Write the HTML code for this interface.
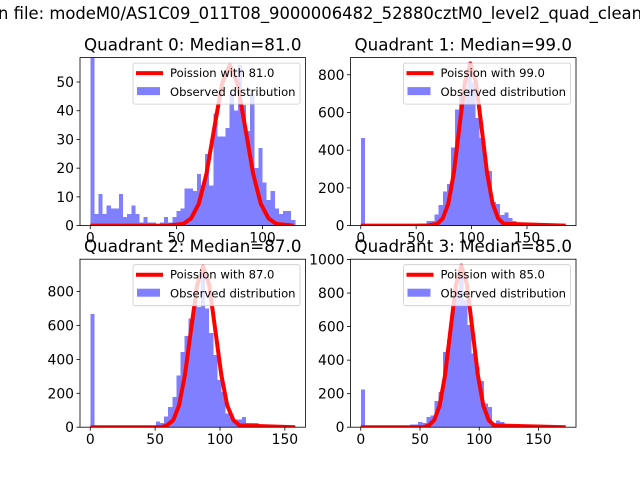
<!DOCTYPE html>
<html><head><meta charset="utf-8"><style>
body{margin:0;background:#fff}
svg{display:block;font-family:"DejaVu Sans","Liberation Sans",sans-serif}
</style></head><body>
<svg id="fig" width="640" height="480" viewBox="0 0 640 480">
<rect width="640" height="480" fill="#fff"/>
<text x="-2" y="19" font-size="16.7" textLength="644" lengthAdjust="spacingAndGlyphs">n file: modeM0/AS1C09_011T08_9000006482_52880cztM0_level2_quad_clean</text>
</svg>
<script>
const counts0=[60,4,11,4,7,6,6,11,3,4,7,4,1,3,1,1,0,1,3,1,3,5,6,13,13,12,18,14,25,14,39,31,31,34,46,40,56,42,33,46,20,27,15,9,12,6,4,5,5,2];
const counts1=[465,0,8,2,2,2,2,2,2,2,2,2,2,2,10,12,25,25,60,110,180,220,415,615,690,720,865,760,570,465,330,290,125,115,55,70,40,25,15,12,10,3,3,3,3,3,3,3,3,3];
const counts2=[668,0,0,0,0,10,0,0,0,0,0,0,0,0,8,0,35,25,63,120,178,305,445,538,640,740,710,920,700,555,425,277,208,80,60,45,45,60,24,24,24,3,3,3,3,3,3,3,3,3];
const counts3=[226,0,0,0,0,0,0,0,0,0,0,0,16,16,30,24,60,70,155,210,450,520,700,820,920,760,610,440,360,276,140,120,24,40,30,20,16,16,16,8,8,8,2,2,2,2,2,2,2,2];
const binMax=[119,185,158,173];
const curveX0=[0,45,54,58.5,63,67.5,72,76.5,81,85.5,90,94.5,99,103.5,108,118];
const curveY0=[0,0,0.6,2.5,7.6,18.2,34,49.4,56,49.4,34,18.2,7.6,2.5,0.6,0];
const curveX1=[0,60,69,74,79,84,89,94,99,104,109,114,119,124,129,185];
const curveY1=[0,0,9.5,38,116,279,522,759,860,759,522,279,116,38,9.5,0];
const curveX2=[0,55,59,64,68.4,73,77.7,82.4,87,91.7,96.3,101,105.6,110.3,115,158];
const curveY2=[0,0,10.5,42,128,309,577,839,951,839,577,309,128,42,10.5,0];
const curveX3=[0,53,57.4,62,66.6,71.2,75.8,80.4,85,89.6,94.2,98.8,103.4,108,112.6,173];
const curveY3=[0,0,10.7,42,130,313,585,851,964,851,585,313,130,42,10.7,0];
const medians=["81.0","99.0","87.0","85.0"];
const xTicks=[[0,50,100],[0,50,100,150],[0,50,100,150],[0,50,100,150]];
const yTicks=[[0,10,20,30,40,50],[0,200,400,600,800],[0,200,400,600,800],[0,200,400,600,800,1000]];
const yMax=[58.5,891,991,1002];

const NS="http://www.w3.org/2000/svg";
const svg=document.getElementById('fig');
function mk(tag,attrs,parent){const e=document.createElementNS(NS,tag);for(const k in attrs)e.setAttribute(k,attrs[k]);(parent||svg).appendChild(e);return e;}
const boxes=[[80,57.6],[350.5,57.6],[80,259.2],[350.5,259.2]];
const W=225.5,H=168;
const allCounts=[counts0,counts1,counts2,counts3];
const allCX=[curveX0,curveX1,curveX2,curveX3];
const allCY=[curveY0,curveY1,curveY2,curveY3];
for(let p=0;p<4;p++){
  const [L,T]=boxes[p];
  const g=mk('g',{});
  
  
  const xmn=-0.05*binMax[p], xmx=binMax[p]*1.05;
  const sx=v=>L+(v-xmn)/(xmx-xmn)*W;
  const sy=v=>T+H-v/yMax[p]*H;
  const cp=mk('clipPath',{id:'c'+p},g);
  mk('rect',{x:L,y:T,width:W,height:H},cp);
  const inner=mk('g',{'clip-path':'url(#c'+p+')'},g);
  const c=allCounts[p], bw=binMax[p]/c.length;
  const path=[];
  c.forEach((v,i)=>{
    if(v<=0)return;
    const x0=sx(i*bw), x1=sx((i+1)*bw);
    path.push('M'+x0+','+sy(0)+'V'+sy(v)+'H'+x1+'V'+sy(0)+'Z');
  });
  const bars=mk('path',{d:path.join(''),fill:'#0000ff','fill-opacity':0.5,'shape-rendering':'crispEdges'},inner);
  
  
  const pts=allCX[p].map((x,i)=>sx(x)+','+sy(allCY[p][i])).join(' ');
  const pl=mk('polyline',{points:pts,fill:'none',stroke:'#ff0000','stroke-width':4,'stroke-linejoin':'round'},inner);
  
  
  const fr=mk('rect',{x:L,y:T,width:W,height:H,fill:'none',stroke:'#000','stroke-width':0.8},g);
  
  
  xTicks[p].forEach(t=>{
    mk('line',{x1:sx(t),x2:sx(t),y1:T+H,y2:T+H+3.5,stroke:'#000','stroke-width':0.8},g);
    const tx=mk('text',{x:sx(t),y:T+H+17,'font-size':13.9,'text-anchor':'middle'},g);
    tx.textContent=t;
    
    
  });
  yTicks[p].forEach(t=>{
    mk('line',{x1:L-3.5,x2:L,y1:sy(t),y2:sy(t),stroke:'#000','stroke-width':0.8},g);
    const ty=mk('text',{x:L-6,y:sy(t)+5,'font-size':13.9,'text-anchor':'end'},g);
    ty.textContent=t;
    
    
  });
  const tt=mk('text',{x:L+W/2,y:T-7,'font-size':16.7,'text-anchor':'middle'},g);
  tt.textContent='Quadrant '+p+': Median='+medians[p];
  
  
  const lg=mk('g',{},g);
  
  
  const lx=L+W-172.5, ly=T+5.5;
  mk('rect',{x:lx,y:ly,width:167,height:41,rx:2,fill:'#fff','fill-opacity':0.8,stroke:'#ccc','stroke-width':0.8},lg);
  mk('line',{x1:lx+3,x2:lx+30,y1:ly+10,y2:ly+10,stroke:'#ff0000','stroke-width':4},lg);
  const t1=mk('text',{x:lx+37,y:ly+14,'font-size':11.6},lg);
  t1.textContent='Poission with '+medians[p];
  
  
  mk('rect',{x:lx+4,y:ly+24,width:23,height:8,fill:'#0000ff','fill-opacity':0.5},lg);
  const t2=mk('text',{x:lx+37,y:ly+33,'font-size':11.6},lg);
  t2.textContent='Observed distribution';
  
  
}
</script>
</body></html>
